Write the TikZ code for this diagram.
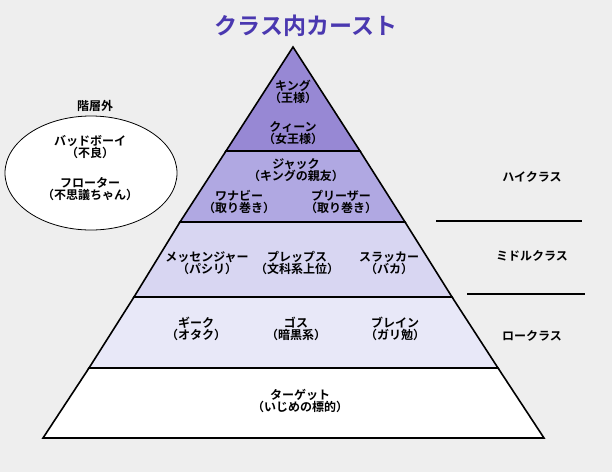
\documentclass[tikz,border=0pt]{standalone}
\usepackage{fontspec}
\setmainfont{Noto Sans CJK JP Bold}
\usepackage{tikz}
\usetikzlibrary{positioning,calc,shapes.geometric}

\definecolor{bgray}{HTML}{EEEEEE}
\definecolor{tierA}{HTML}{9788D4}
\definecolor{tierB}{HTML}{B0A8E2}
\definecolor{tierC}{HTML}{D8D6F2}
\definecolor{tierD}{HTML}{E8E8F8}
\definecolor{titleblue}{HTML}{4A38B0}

\begin{document}
\begin{tikzpicture}[x=1pt, y=-1pt,
  band/.style={draw=black, line width=1.6pt, line join=miter},
  caste/.style={font=\fontsize{12}{12}\selectfont, align=center, inner sep=1pt},
  rank/.style={font=\fontsize{12}{12}\selectfont, inner sep=1pt},
  divider/.style={draw=black, line width=1.2pt}
]
  \useasboundingbox[fill=bgray] (0,0) rectangle (612,472);

  % pyramid tiers
  \filldraw[band, fill=white] (89,368) -- (498,368) -- (544,438) -- (43,438) -- cycle;
  \filldraw[band, fill=tierD] (134,297) -- (452,297) -- (498,368) -- (89,368) -- cycle;
  \filldraw[band, fill=tierC] (180,222) -- (405,222) -- (452,297) -- (134,297) -- cycle;
  \filldraw[band, fill=tierB] (226,151) -- (360,151) -- (405,222) -- (180,222) -- cycle;
  \filldraw[band, fill=tierA] (293,47) -- (360,151) -- (226,151) -- cycle;

  \node (title) [font=\fontsize{23}{24}\selectfont, text=titleblue] at (306,26) {クラス内カースト};

  % top
  \node (king) [caste] at (293,92) {キング\\（王様）};
  \node (queen) [caste] at (293,133) {クィーン\\（女王様）};
  % second
  \node (jack) [caste] at (296,170) {ジャック\\（キングの親友）};
  \node (wannabe) [caste] at (239,202) {ワナビー\\（取り巻き）};
  \node (pleaser) [caste] at (341,202) {プリーザー\\（取り巻き）};
  % third
  \node (messenger) [caste] at (207,263) {メッセンジャー\\（パシリ）};
  \node (preps) [caste] at (297,263) {プレップス\\（文科系上位）};
  \node (slacker) [caste] at (389,263) {スラッカー\\（バカ）};
  % fourth
  \node (geek) [caste] at (196,329) {ギーク\\（オタク）};
  \node (goth) [caste] at (296,329) {ゴス\\（暗黒系）};
  \node (brain) [caste] at (395,329) {ブレイン\\（ガリ勉）};
  % bottom
  \node (target) [caste] at (300,401) {ターゲット\\（いじめの標的）};

  % outside
  \node (outside) [rank] at (95,106) {階層外};
  \node (outcircle) [draw=black, line width=0.8pt, fill=white, ellipse, minimum width=172pt, minimum height=114pt] at (91,173) {};
  \node (badboy) [caste] at (90,147) {バッドボーイ\\（不良）};
  \node (floater) [caste] at (90,189) {フローター\\（不思議ちゃん）};

  % class labels
  \node (high) [rank] at (532,177) {ハイクラス};
  \node (middle) [rank] at (532,256) {ミドルクラス};
  \node (low) [rank] at (532,336) {ロークラス};
  \draw[divider] (436,221) -- (582,221);
  \draw[divider] (467,294) -- (585,294);
\end{tikzpicture}
\end{document}
